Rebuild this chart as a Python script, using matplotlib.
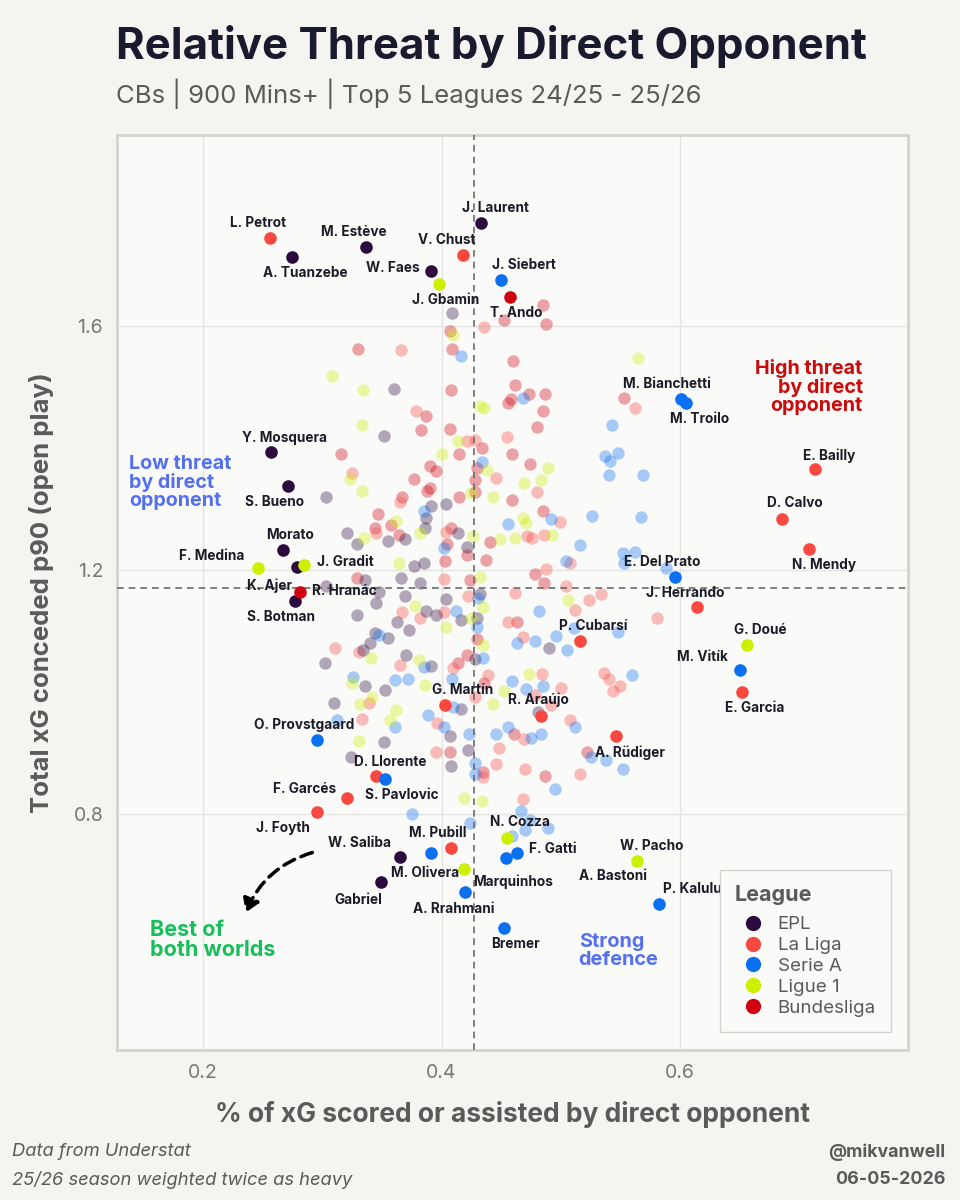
import matplotlib.pyplot as plt
from matplotlib.patches import FancyArrowPatch
from matplotlib.lines import Line2D

plt.rcParams['font.family'] = ['Inter', 'DejaVu Sans']

# League colours
leagues = ["EPL", "La Liga", "Serie A", "Ligue 1", "Bundesliga"]
league_colors = {"EPL": "#2b0a3d", "La Liga": "#f8483f", "Serie A": "#0b6ff2",
                 "Ligue 1": "#cdf000", "Bundesliga": "#d1000f"}

# Background (non-highlighted) players: (x, y) per league
bg_epl = [(0.409, 1.622), (0.360, 1.497), (0.352, 1.420), (0.303, 1.320), (0.404, 1.308),
          (0.391, 1.305), (0.387, 1.285), (0.386, 1.268), (0.414, 1.260), (0.321, 1.260),
          (0.329, 1.242), (0.355, 1.248), (0.369, 1.250), (0.421, 1.238), (0.377, 1.207),
          (0.385, 1.212), (0.336, 1.184), (0.366, 1.187), (0.382, 1.178), (0.303, 1.173),
          (0.348, 1.164), (0.432, 1.161), (0.430, 1.122), (0.490, 1.072), (0.481, 0.967),
          (0.345, 1.146), (0.329, 1.126), (0.369, 1.157), (0.363, 1.114), (0.373, 1.102),
          (0.387, 1.132), (0.395, 1.126), (0.404, 1.152), (0.416, 1.118), (0.355, 1.088),
          (0.344, 1.096), (0.340, 1.080), (0.334, 1.069), (0.302, 1.047), (0.370, 1.061),
          (0.391, 1.043), (0.428, 1.054), (0.336, 1.009), (0.353, 1.003), (0.310, 0.982),
          (0.407, 0.927), (0.416, 0.972), (0.352, 0.918), (0.324, 0.894), (0.422, 0.904),
          (0.408, 0.879)]

bg_bundesliga = [(0.407, 1.591), (0.409, 1.563), (0.330, 1.562), (0.408, 1.495), (0.387, 1.453),
                 (0.383, 1.430), (0.407, 1.431), (0.316, 1.390), (0.415, 1.390), (0.390, 1.371),
                 (0.395, 1.363), (0.377, 1.349), (0.390, 1.335), (0.388, 1.330), (0.428, 1.348),
                 (0.428, 1.328), (0.367, 1.320), (0.415, 1.320), (0.347, 1.291), (0.344, 1.269),
                 (0.358, 1.274), (0.408, 1.269), (0.364, 1.257), (0.405, 1.243), (0.421, 1.225),
                 (0.403, 1.214), (0.329, 1.187), (0.424, 1.184), (0.485, 1.634), (0.452, 1.609),
                 (0.488, 1.603), (0.460, 1.543), (0.462, 1.503), (0.473, 1.488), (0.487, 1.488),
                 (0.456, 1.474), (0.458, 1.480), (0.485, 1.460), (0.553, 1.482), (0.480, 1.435),
                 (0.434, 1.400), (0.459, 1.390), (0.474, 1.374), (0.430, 1.367), (0.459, 1.315),
                 (0.485, 1.296), (0.441, 1.245), (0.437, 1.216), (0.478, 1.193), (0.486, 1.179),
                 (0.430, 1.086), (0.436, 1.014), (0.463, 1.115), (0.461, 0.931), (0.435, 0.868),
                 (0.487, 0.862), (0.522, 0.901), (0.414, 1.047), (0.421, 1.061), (0.407, 0.901)]

bg_laliga = [(0.366, 1.561), (0.379, 1.461), (0.421, 1.412), (0.428, 1.413), (0.325, 1.359),
             (0.365, 1.312), (0.404, 1.262), (0.345, 1.260), (0.402, 1.185), (0.436, 1.598),
             (0.562, 1.465), (0.455, 1.418), (0.446, 1.351), (0.480, 1.327), (0.499, 1.279),
             (0.472, 1.255), (0.476, 1.252), (0.486, 1.257), (0.508, 1.211), (0.488, 1.201),
             (0.504, 1.173), (0.581, 1.122), (0.524, 1.151), (0.534, 1.161), (0.512, 1.134),
             (0.462, 1.163), (0.536, 1.031), (0.540, 1.022), (0.544, 1.001), (0.550, 1.010),
             (0.500, 1.006), (0.484, 1.029), (0.439, 1.027), (0.428, 0.992), (0.478, 0.995),
             (0.492, 0.979), (0.456, 1.114), (0.468, 1.090), (0.508, 0.954), (0.469, 0.923),
             (0.448, 0.908), (0.446, 0.882), (0.435, 0.861), (0.470, 0.873), (0.516, 0.866),
             (0.468, 0.824), (0.367, 1.131), (0.382, 1.121), (0.402, 1.131), (0.422, 1.158),
             (0.331, 1.065), (0.311, 1.072), (0.365, 1.044), (0.410, 1.039), (0.339, 0.982),
             (0.333, 0.955), (0.396, 0.949), (0.395, 0.901)]

bg_seriea = [(0.416, 1.550), (0.385, 1.296), (0.402, 1.236), (0.468, 1.482), (0.543, 1.438),
             (0.434, 1.377), (0.537, 1.387), (0.541, 1.379), (0.548, 1.392), (0.540, 1.356),
             (0.569, 1.356), (0.492, 1.284), (0.456, 1.275), (0.526, 1.289), (0.567, 1.287),
             (0.516, 1.241), (0.504, 1.214), (0.552, 1.227), (0.562, 1.230), (0.553, 1.211),
             (0.588, 1.203), (0.482, 1.133), (0.463, 1.081), (0.478, 1.084), (0.505, 1.069),
             (0.496, 1.092), (0.511, 1.104), (0.548, 1.098), (0.560, 1.027), (0.485, 1.009),
             (0.471, 1.005), (0.459, 1.018), (0.430, 1.107), (0.435, 1.056), (0.456, 0.943),
             (0.446, 0.931), (0.475, 0.925), (0.483, 0.931), (0.428, 0.884), (0.428, 0.865),
             (0.495, 0.841), (0.512, 0.943), (0.525, 0.894), (0.538, 0.889), (0.552, 0.874),
             (0.467, 0.804), (0.474, 0.790), (0.470, 0.773), (0.459, 0.764), (0.489, 0.777),
             (0.424, 0.785), (0.412, 1.133), (0.348, 1.093), (0.385, 1.041), (0.409, 1.022),
             (0.326, 1.025), (0.361, 1.020), (0.372, 1.022), (0.361, 0.943), (0.312, 0.954),
             (0.389, 0.962), (0.402, 0.943), (0.423, 0.931), (0.410, 0.976), (0.375, 0.800),
             (0.431, 1.154)]

bg_ligue1 = [(0.410, 1.585), (0.308, 1.518), (0.334, 1.495), (0.333, 1.437), (0.414, 1.411),
             (0.400, 1.390), (0.323, 1.349), (0.333, 1.330), (0.425, 1.326), (0.362, 1.280),
             (0.382, 1.260), (0.335, 1.252), (0.426, 1.255), (0.364, 1.211), (0.565, 1.547),
             (0.432, 1.468), (0.436, 1.465), (0.438, 1.364), (0.489, 1.367), (0.483, 1.348),
             (0.469, 1.342), (0.443, 1.320), (0.468, 1.285), (0.471, 1.277), (0.449, 1.250),
             (0.462, 1.252), (0.493, 1.257), (0.432, 1.189), (0.506, 1.151), (0.473, 1.030),
             (0.452, 1.001), (0.443, 0.980), (0.435, 1.140), (0.435, 1.077), (0.434, 0.821),
             (0.378, 1.141), (0.404, 1.107), (0.425, 1.121), (0.341, 1.055), (0.381, 1.052),
             (0.325, 1.014), (0.386, 1.012), (0.342, 0.991), (0.332, 0.980), (0.362, 0.971),
             (0.357, 0.954), (0.331, 0.919), (0.419, 0.826)]

background = {"EPL": bg_epl, "La Liga": bg_laliga, "Serie A": bg_seriea,
              "Ligue 1": bg_ligue1, "Bundesliga": bg_bundesliga}

# Highlighted (labelled) players
names = ["A. Tuanzebe", "M. Estève", "W. Faes", "J. Laurent", "Y. Mosquera", "S. Bueno",
         "Morato", "K. Ajer", "S. Botman", "W. Saliba", "Gabriel",
         "L. Petrot", "V. Chust", "E. Bailly", "D. Calvo", "N. Mendy", "J. Herrando",
         "P. Cubarsí", "E. Garcia", "G. Martín", "R. Araújo", "D. Llorente", "F. Garcés",
         "J. Foyth", "M. Pubill", "A. Rüdiger",
         "J. Siebert", "M. Bianchetti", "M. Troilo", "E. Del Prato", "M. Vitík",
         "O. Provstgaard", "S. Pavlovic", "M. Olivera", "A. Rrahmani", "Bremer", "F. Gatti",
         "A. Bastoni", "P. Kalulu",
         "J. Gbamin", "F. Medina", "J. Gradit", "G. Doué", "N. Cozza", "Marquinhos", "W. Pacho",
         "T. Ando", "R. Hranác"]
hx = [0.275, 0.337, 0.391, 0.433, 0.257, 0.271, 0.267, 0.279, 0.277, 0.365, 0.349,
      0.256, 0.418, 0.713, 0.685, 0.708, 0.614, 0.516, 0.652, 0.403, 0.483, 0.345, 0.321,
      0.296, 0.408, 0.546,
      0.450, 0.601, 0.605, 0.596, 0.650, 0.296, 0.353, 0.391, 0.420, 0.452, 0.463,
      0.454, 0.582,
      0.398, 0.246, 0.285, 0.656, 0.455, 0.419, 0.564,
      0.457, 0.281]
hy = [1.713, 1.730, 1.690, 1.768, 1.393, 1.337, 1.232, 1.204, 1.149, 0.730, 0.689,
      1.744, 1.716, 1.365, 1.284, 1.235, 1.139, 1.084, 1.000, 0.979, 0.961, 0.862, 0.826,
      0.803, 0.744, 0.927,
      1.676, 1.480, 1.473, 1.188, 1.036, 0.922, 0.857, 0.736, 0.672, 0.613, 0.736,
      0.727, 0.652,
      1.669, 1.203, 1.208, 1.077, 0.761, 0.709, 0.723,
      1.647, 1.164]
hleague = ["EPL"] * 11 + ["La Liga"] * 15 + ["Serie A"] * 13 + ["Ligue 1"] * 7 + ["Bundesliga"] * 2

x_mean = 0.427
y_mean = 1.170

# label offsets (pixels, relative to the dot)
label_offsets = {
    "L. Petrot": (-12, 15), "A. Tuanzebe": (13, -16), "M. Estève": (-13, 15), "W. Faes": (-38, 3),
    "J. Gbamin": (6, -16), "V. Chust": (-16, 15), "J. Laurent": (15, 15), "J. Siebert": (23, 15),
    "T. Ando": (7, -16), "M. Bianchetti": (-14, 15), "M. Troilo": (14, -16),
    "Y. Mosquera": (14, 14), "S. Bueno": (-13, -16), "Morato": (7, 15), "F. Medina": (-46, 12),
    "K. Ajer": (-28, -18), "J. Gradit": (41, 3), "R. Hranác": (45, 1), "S. Botman": (-14, -16),
    "E. Bailly": (14, 14), "D. Calvo": (13, 16), "N. Mendy": (15, -16), "E. Del Prato": (-13, 15),
    "J. Herrando": (-12, 14), "P. Cubarsí": (13, 15), "G. Doué": (13, 15), "M. Vitík": (-37, 13),
    "E. Garcia": (13, -16), "G. Martín": (18, 15), "R. Araújo": (-2, 16),
    "O. Provstgaard": (-13, 15), "D. Llorente": (14, 14), "F. Garcés": (-43, 9),
    "S. Pavlovic": (16, -16), "J. Foyth": (-35, -16), "W. Saliba": (-40, 14),
    "M. Pubill": (-13, 15), "M. Olivera": (-6, -20), "Gabriel": (-22, -18),
    "Marquinhos": (49, -12), "A. Rrahmani": (-12, -17), "Bremer": (12, -16),
    "N. Cozza": (13, 16), "F. Gatti": (36, 4), "W. Pacho": (15, 15), "A. Bastoni": (107, -18),
    "P. Kalulu": (34, 15), "A. Rüdiger": (14, -16),
}

fig_bg = "#f4f4f0"
ax_bg = "#fafaf9"
grey = "#5a5a5a"

fig = plt.figure(figsize=(9.6, 12), dpi=100, facecolor=fig_bg)
ax = fig.add_axes([0.1219, 0.125, 0.8239, 0.7625], facecolor=ax_bg)

for lg in ["Bundesliga", "La Liga", "EPL", "Serie A", "Ligue 1"]:
    pts = background[lg]
    ax.scatter([p[0] for p in pts], [p[1] for p in pts], s=80, color=league_colors[lg],
               alpha=0.35, linewidths=0, zorder=2)

ax.axvline(x_mean, color="#6b6b6b", lw=1.2, ls=(0, (4, 3)), zorder=3)
ax.axhline(y_mean, color="#6b6b6b", lw=1.2, ls=(0, (4, 3)), zorder=3)

for n, x, y, lg in zip(names, hx, hy, hleague):
    ax.scatter(x, y, s=82, color=league_colors[lg], linewidths=0, zorder=4)
    dx, dy = label_offsets[n]
    ax.annotate(n, (x, y), xytext=(dx, dy), textcoords="offset pixels",
                ha="center", va="center", fontsize=9.8, fontweight="bold",
                color="#1c1c28", zorder=5)

ax.set_xlim(0.128, 0.791)
ax.set_ylim(0.413, 1.913)
ax.set_xticks([0.2, 0.4, 0.6])
ax.set_xticklabels(["0.2", "0.4", "0.6"])
ax.set_yticks([0.8, 1.2, 1.6])
ax.set_yticklabels(["0.8", "1.2", "1.6"])
ax.tick_params(length=0, labelsize=14, labelcolor="#777777", pad=10)
ax.grid(True, color="#e4e4e2", lw=1.0, zorder=0)
ax.set_axisbelow(True)
for sp in ax.spines.values():
    sp.set_color("#d4d4cf")
    sp.set_linewidth(2)

ax.set_xlabel("% of xG scored or assisted by direct opponent", fontsize=19,
              fontweight="bold", color=grey, labelpad=14)
ax.set_ylabel("Total xG conceded p90 (open play)", fontsize=18.5,
              fontweight="bold", color=grey, labelpad=14)

# quadrant annotations
ax.text(0.753, 1.500, "High threat\nby direct\nopponent", ha="right", va="center",
        fontsize=14.2, fontweight="bold", color="#cc0a0a", linespacing=1.0, zorder=5)
ax.text(0.138, 1.343, "Low threat\nby direct\nopponent", ha="left", va="center",
        fontsize=14.2, fontweight="bold", color="#5470ee", linespacing=1.0, zorder=5)
ax.text(0.156, 0.593, "Best of\nboth worlds", ha="left", va="center",
        fontsize=15.5, fontweight="bold", color="#17bf5a", linespacing=1.0, zorder=5)
ax.text(0.515, 0.575, "Strong\ndefence", ha="left", va="center",
        fontsize=14.3, fontweight="bold", color="#5470ee", linespacing=1.0, zorder=5)

arrow = FancyArrowPatch((0.294, 0.738), (0.235, 0.634), connectionstyle="arc3,rad=0.25",
                        arrowstyle="-|>,head_length=8,head_width=5", color="black",
                        lw=2.5, ls=(0, (3.5, 2)), zorder=5)
ax.add_patch(arrow)

handles = [Line2D([0], [0], marker="o", ls="", markersize=11, markeredgewidth=0,
                  color=league_colors[lg]) for lg in leagues]
leg = ax.legend(handles, leagues, title="League", loc="lower right",
                bbox_to_anchor=(0.9785, 0.02), borderaxespad=0, fontsize=13.5,
                title_fontsize=15.5, frameon=True, facecolor=ax_bg, edgecolor="#d4d4cf",
                framealpha=1, handletextpad=0.3, labelspacing=0.2, borderpad=0.8,
                fancybox=False)
leg.get_title().set_fontweight("bold")
leg.get_title().set_color(grey)
leg._legend_box.align = "left"
leg._legend_box.sep = 8
for t in leg.get_texts():
    t.set_color(grey)

fig.text(0.121, 0.961, "Relative Threat by Direct Opponent", fontsize=31.5,
         fontweight="bold", color="#1a1a2e", va="center", ha="left")
fig.text(0.121, 0.922, "CBs | 900 Mins+ | Top 5 Leagues 24/25 - 25/26", fontsize=18.5,
         color=grey, va="center", ha="left")

fig.text(0.0125, 0.040, "Data from Understat", fontsize=13.2, style="italic",
         color=grey, ha="left", va="center")
fig.text(0.0125, 0.017, "25/26 season weighted twice as heavy", fontsize=13.2,
         style="italic", color=grey, ha="left", va="center")
fig.text(0.985, 0.040, "@mikvanwell", fontsize=12.8, fontweight="bold",
         color=grey, ha="right", va="center")
fig.text(0.985, 0.017, "06-05-2026", fontsize=12.8, fontweight="bold",
         color=grey, ha="right", va="center")

fig.savefig("out.png", dpi=100, facecolor=fig_bg)
